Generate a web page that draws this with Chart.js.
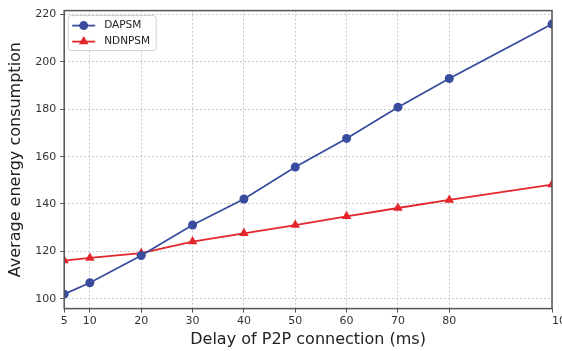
<!DOCTYPE html>
<html>
<head>
<meta charset="utf-8">
<script src="https://cdn.jsdelivr.net/npm/chart.js@4"></script>
<style>
  html, body { margin: 0; padding: 0; background: #fff; overflow: hidden; }
  #wrap { width: 580px; height: 351px; }
</style>
</head>
<body>
<div id="wrap"><canvas id="chart"></canvas></div>
<script>
// delay of P2P connection (ms)
const delays = [5, 10, 20, 30, 40, 50, 60, 70, 80, 100];
const dapsm = [101.9, 106.7, 118.2, 131.1, 142.1, 155.6, 167.7, 180.9, 193.0, 216.0];
const ndnpsm = [116.1, 117.2, 119.2, 124.1, 127.6, 131.1, 134.8, 138.3, 141.7, 148.2];
const xTicks = [5, 10, 20, 30, 40, 50, 60, 70, 80, 100];
const yTicks = [100, 120, 140, 160, 180, 200, 220];

const BLUE = '#3a4c9e';
const RED = '#e3262c';
const FONT = "'DejaVu Sans', sans-serif";

const toPoints = (ys) => delays.map((x, i) => ({ x: x, y: ys[i] }));

// draws the box around the plot area
const framePlugin = {
    id: 'frame',
    afterDatasetsDraw(chart) {
        const { ctx, chartArea: a } = chart;
        ctx.save();
        ctx.strokeStyle = '#555';
        ctx.lineWidth = 1.5;
        ctx.strokeRect(a.left, a.top, a.right - a.left, a.bottom - a.top);
        ctx.restore();
    },
};

// matplotlib style legend in the upper left corner
const legendPlugin = {
    id: 'boxLegend',
    afterDraw(chart) {
        const { ctx, chartArea: a } = chart;
        const x0 = a.left + 4, y0 = a.top + 5;
        ctx.save();
        ctx.fillStyle = 'rgba(255,255,255,0.85)';
        ctx.strokeStyle = '#d0d0d0';
        ctx.lineWidth = 1;
        ctx.beginPath();
        ctx.roundRect(x0, y0, 88, 35, 3);
        ctx.fill();
        ctx.stroke();
        chart.data.datasets.forEach((ds, i) => {
            const cy = y0 + 10 + i * 16;
            ctx.strokeStyle = ds.borderColor;
            ctx.lineWidth = 1.8;
            ctx.beginPath();
            ctx.moveTo(x0 + 4, cy);
            ctx.lineTo(x0 + 27, cy);
            ctx.stroke();
            ctx.fillStyle = ds.backgroundColor;
            ctx.beginPath();
            if (ds.pointStyle === 'triangle') {
                const r = 5.5;
                ctx.moveTo(x0 + 15.5, cy - r);
                ctx.lineTo(x0 + 15.5 + r * 0.87, cy + r * 0.5);
                ctx.lineTo(x0 + 15.5 - r * 0.87, cy + r * 0.5);
                ctx.closePath();
            } else {
                ctx.arc(x0 + 15.5, cy, 4.5, 0, Math.PI * 2);
            }
            ctx.fill();
            ctx.fillStyle = '#222';
            ctx.font = '10.5px ' + FONT;
            ctx.textBaseline = 'middle';
            ctx.fillText(ds.label, x0 + 36, cy);
        });
        ctx.restore();
    },
};

new Chart(document.getElementById('chart'), {
    type: 'line',
    data: {
        datasets: [
            {
                label: 'DAPSM',
                data: toPoints(dapsm),
                borderColor: BLUE,
                backgroundColor: BLUE,
                borderWidth: 1.8,
                pointStyle: 'circle',
                pointRadius: 4.5,
                pointBorderWidth: 0,
                tension: 0,
            },
            {
                label: 'NDNPSM',
                data: toPoints(ndnpsm),
                borderColor: RED,
                backgroundColor: RED,
                borderWidth: 1.8,
                pointStyle: 'triangle',
                pointRadius: 5.5,
                pointBorderWidth: 0,
                tension: 0,
            },
        ],
    },
    options: {
        responsive: true,
        maintainAspectRatio: false,
        animation: false,
        layout: { padding: { top: 9, right: 28, bottom: 2, left: 6 } },
        plugins: {
            legend: { display: false },
            tooltip: { enabled: false },
        },
        scales: {
            x: {
                type: 'linear',
                min: 5,
                max: 100,
                afterBuildTicks: (scale) => { scale.ticks = xTicks.map((v) => ({ value: v })); },
                ticks: {
                    color: '#333',
                    font: { family: FONT, size: 11 },
                    padding: 2,
                    maxRotation: 0,
                    // the last label sits to the right of its tick, as in the source figure
                    callback: (v) => (v === 100 ? '\u2007\u2007\u2007100' : String(v)),
                },
                grid: {
                    color: '#c8c8c8',
                    lineWidth: 1,
                    tickColor: '#555',
                    tickLength: 4,
                    tickWidth: 1,
                },
                border: { display: false, dash: [2, 2] },
                title: {
                    display: true,
                    text: 'Delay of P2P connection (ms)',
                    color: '#222',
                    font: { family: FONT, size: 16 },
                    padding: { top: 0, bottom: 0 },
                },
            },
            y: {
                type: 'linear',
                min: 95.8,
                max: 221.7,
                afterBuildTicks: (scale) => { scale.ticks = yTicks.map((v) => ({ value: v })); },
                ticks: {
                    color: '#333',
                    font: { family: FONT, size: 11 },
                    padding: 4,
                },
                grid: {
                    color: '#c8c8c8',
                    lineWidth: 1,
                    tickColor: '#555',
                    tickLength: 4,
                    tickWidth: 1,
                },
                border: { display: false, dash: [2, 2] },
                title: {
                    display: true,
                    text: 'Average energy consumption',
                    color: '#222',
                    font: { family: FONT, size: 16 },
                    padding: { top: 0, bottom: 6 },
                },
            },
        },
    },
    plugins: [framePlugin, legendPlugin],
});
</script>
</body>
</html>
